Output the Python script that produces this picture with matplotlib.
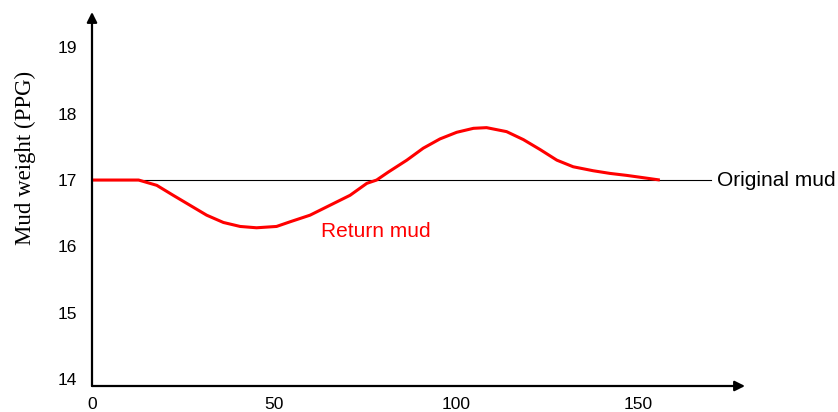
import matplotlib.pyplot as plt

# Return mud curve (x vs mud weight in PPG)
x_return = [0, 12.8, 17.8, 22.3, 26.9, 31.5, 36.1, 40.7, 45.2, 50.7, 54.4, 59.9,
            65.4, 70.9, 75.5, 78.2, 81.4, 86.5, 91.0, 95.6, 100.2, 104.8, 108.4,
            113.9, 118.5, 123.1, 127.7, 132.2, 137.7, 142.3, 146.9, 151.5, 156.0]
y_return = [17.0, 17.0, 16.92, 16.77, 16.62, 16.47, 16.36, 16.30, 16.28, 16.30, 16.37, 16.47,
            16.62, 16.77, 16.95, 17.0, 17.12, 17.30, 17.48, 17.62, 17.72, 17.78, 17.79,
            17.73, 17.61, 17.46, 17.30, 17.20, 17.14, 17.10, 17.07, 17.035, 17.0]

original_weight = 17
original_end = 170

x_ticks = [0, 50, 100, 150]
y_ticks = [14, 15, 16, 17, 18, 19]

plt.rcParams['font.family'] = ['Liberation Sans', 'DejaVu Sans']

fig = plt.figure(figsize=(8.38, 4.12), dpi=100)
ax = fig.add_axes([92 / 838, 26 / 412, 653 / 838, 374 / 412])

ax.plot([0, original_end], [original_weight, original_weight], color='black', lw=0.8)
ax.plot(x_return, y_return, color='red', lw=2.2, solid_capstyle='butt',
        solid_joinstyle='round')

ax.text(original_end + 1.6, original_weight, 'Original mud', fontsize=15,
        va='center', ha='left')
ax.text(63.0, 16.22, 'Return mud', fontsize=15, color='red', va='center', ha='left')

ax.set_xlim(0, 179.4)
ax.set_ylim(13.894, 19.534)
ax.set_xticks(x_ticks)
ax.set_yticks(y_ticks)
ax.tick_params(length=0, labelsize=12.5, pad=8)
ax.tick_params(axis='y', pad=11)

for s in ax.spines.values():
    s.set_visible(False)

# axes drawn as arrows
ax.annotate('', xy=(1, 0), xytext=(0, 0), xycoords='axes fraction',
            arrowprops=dict(arrowstyle='-|>', color='black', lw=1.6,
                            mutation_scale=15, shrinkA=0, shrinkB=0))
ax.annotate('', xy=(0, 1), xytext=(0, 0), xycoords='axes fraction',
            arrowprops=dict(arrowstyle='-|>', color='black', lw=1.6,
                            mutation_scale=15, shrinkA=0, shrinkB=0))

fig.text(25 / 838, 1 - 158 / 412, 'Mud weight (PPG)', rotation=90, fontsize=16.5,
         family='Liberation Serif', va='center', ha='center')

plt.savefig('out.png', dpi=100)
